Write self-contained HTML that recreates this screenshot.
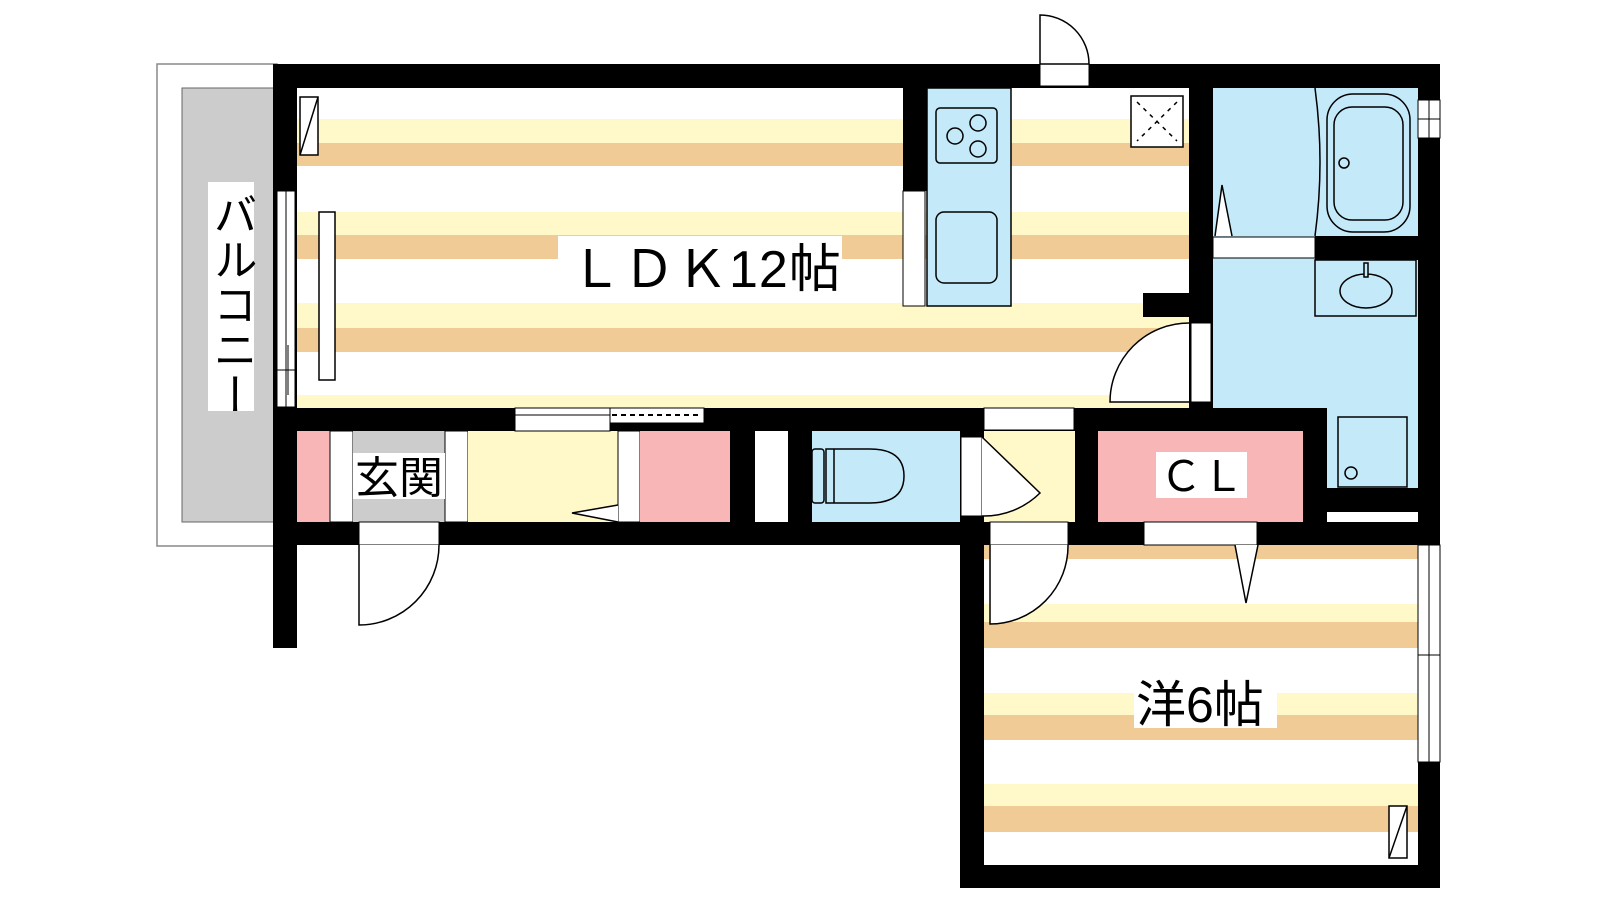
<!DOCTYPE html>
<html><head><meta charset="utf-8"><style>
html,body{margin:0;padding:0;background:#fff;width:1600px;height:900px;overflow:hidden}
svg{display:block}
text{font-family:"Liberation Sans","Noto Sans CJK JP",sans-serif;fill:#000}
</style></head><body>
<svg width="1600" height="900" viewBox="0 0 1600 900" xmlns="http://www.w3.org/2000/svg">
<!-- balcony -->
<rect x="157" y="64" width="120" height="482" fill="#fff" stroke="#888" stroke-width="1.5"/>
<rect x="182" y="88" width="95" height="434" fill="#ccc" stroke="#666" stroke-width="1"/>
<rect x="208" y="182" width="46" height="229" fill="#fff"/>
<text x="231" y="192" font-size="44" style="writing-mode:vertical-rl;glyph-orientation-vertical:0" letter-spacing="1">バルコニー</text>

<!-- LDK floor -->
<rect x="297" y="88" width="892" height="320" fill="#fff"/>
<g fill="#fff9c9">
<rect x="297" y="119" width="892" height="24"/><rect x="297" y="212" width="892" height="23"/>
<rect x="297" y="303" width="892" height="25"/><rect x="297" y="395" width="892" height="13"/>
</g>
<g fill="#f0cb96">
<rect x="297" y="143" width="892" height="23"/><rect x="297" y="235" width="892" height="24"/>
<rect x="297" y="328" width="892" height="24"/>
</g>
<!-- 6 room floor -->
<rect x="984" y="545" width="434" height="320" fill="#fff"/>
<g fill="#fff9c9"><rect x="984" y="604" width="434" height="18"/><rect x="984" y="693" width="434" height="22"/><rect x="984" y="784" width="434" height="22"/></g>
<g fill="#f0cb96"><rect x="984" y="545" width="434" height="14"/><rect x="984" y="622" width="434" height="26"/><rect x="984" y="715" width="434" height="25"/><rect x="984" y="806" width="434" height="26"/></g>

<!-- bath area -->
<rect x="1213" y="88" width="205" height="320" fill="#c4e9f9"/>
<rect x="1327" y="408" width="91" height="80" fill="#c4e9f9"/>
<!-- entry row -->
<rect x="297" y="431" width="33" height="91" fill="#f8b6b6"/>
<rect x="330" y="431" width="23" height="91" fill="#fff" stroke="#000" stroke-width="1"/>
<rect x="353" y="431" width="92" height="91" fill="#ccc"/>
<rect x="445" y="431" width="23" height="91" fill="#fff" stroke="#000" stroke-width="1"/>
<rect x="468" y="431" width="150" height="91" fill="#fff9c9"/>
<rect x="618" y="431" width="22" height="91" fill="#fff" stroke="#000" stroke-width="1"/>
<rect x="640" y="431" width="90" height="91" fill="#f8b6b6"/>
<rect x="755" y="431" width="33" height="91" fill="#fff"/>
<rect x="812" y="431" width="148" height="91" fill="#c4e9f9"/>
<rect x="984" y="431" width="91" height="91" fill="#fff9c9"/>
<rect x="1098" y="431" width="205" height="91" fill="#f8b6b6"/>

<!-- walls -->
<g fill="#000">
<rect x="273" y="64" width="1167" height="24"/>
<rect x="273" y="64" width="24" height="584"/>
<rect x="1418" y="64" width="22" height="824"/>
<rect x="960" y="865" width="480" height="23"/>
<rect x="960" y="522" width="24" height="366"/>
<rect x="273" y="408" width="1054" height="23"/>
<rect x="273" y="522" width="1167" height="23"/>
<rect x="1303" y="408" width="24" height="137"/>
<rect x="1303" y="488" width="115" height="57"/>
<rect x="1075" y="408" width="23" height="137"/>
<rect x="730" y="431" width="25" height="91"/>
<rect x="788" y="431" width="24" height="91"/>
<rect x="960" y="431" width="24" height="91"/>
<rect x="903" y="88" width="24" height="103"/>
<rect x="1189" y="88" width="24" height="320"/>
<rect x="1143" y="293" width="46" height="24"/>
<rect x="1315" y="236" width="103" height="24"/>
</g>
<!-- openings -->
<g fill="#fff" stroke="#000" stroke-width="1">
<rect x="1040" y="64" width="49" height="22"/>
<rect x="277" y="191" width="18" height="216"/>
<rect x="903" y="191" width="22" height="115"/>
<rect x="1191" y="323" width="20" height="79"/>
<rect x="1213" y="237" width="102" height="21"/>
<rect x="984" y="408" width="90" height="22"/>
<rect x="515" y="408" width="95" height="23"/>
<rect x="610" y="408" width="94" height="15"/>
<rect x="961" y="437" width="21" height="79"/>
<rect x="359" y="522" width="80" height="23"/>
<rect x="990" y="522" width="78" height="23"/>
<rect x="1144" y="522" width="113" height="23"/>
<rect x="1418" y="545" width="22" height="217"/>
<rect x="1418" y="100" width="22" height="38"/>
</g>
<rect x="1327" y="512" width="91" height="10" fill="#fff"/>
<g stroke="#000" stroke-width="1" fill="none">
<line x1="286" y1="191" x2="286" y2="407"/><line x1="277" y1="370" x2="295" y2="370"/><line x1="288" y1="345" x2="288" y2="395"/>
<line x1="515" y1="415" x2="610" y2="415"/>
<line x1="612" y1="415" x2="702" y2="415" stroke-dasharray="5,4" stroke-width="2"/>
<line x1="1429" y1="545" x2="1429" y2="762"/><line x1="1418" y1="655" x2="1440" y2="655"/>
<line x1="1429" y1="100" x2="1429" y2="138"/><line x1="1418" y1="119" x2="1440" y2="119"/>
</g>
<!-- doors -->
<g fill="#fff" stroke="#000" stroke-width="1.5">
<path d="M1040 64 L1040 15 A49 49 0 0 1 1089 64 Z"/>
<path d="M1189 402 L1110 402 A79 79 0 0 1 1189 323"/>
<path d="M359 545 L359 625 A80 80 0 0 0 439 545"/>
<path d="M990 545 L990 624 A78 78 0 0 0 1068 545"/>
<path d="M982 437 L1040 493 A80 80 0 0 1 982 516"/>
<path d="M618 505 L572 513 L618 522"/>
<path d="M1235 545 L1246 603 L1258 545"/>
<path d="M1215 236 L1222 185 L1232 236"/>
</g>
<!-- furniture -->
<g stroke="#000" stroke-width="1.5" fill="none">
<rect x="300" y="97" width="18" height="58" fill="#fff"/><line x1="300" y1="155" x2="318" y2="97"/>
<rect x="319" y="212" width="16" height="168" fill="#fff"/>
<rect x="1389" y="806" width="18" height="52" fill="#fff"/><line x1="1389" y1="858" x2="1407" y2="806"/>
<rect x="927" y="88" width="84" height="218" fill="#c4e9f9"/>
<rect x="936" y="108" width="61" height="55" rx="4"/>
<circle cx="955" cy="136" r="8"/><circle cx="978" cy="123" r="8"/><circle cx="978" cy="149" r="8"/>
<rect x="936" y="212" width="61" height="71" rx="8"/>
<rect x="1131" y="96" width="52" height="51" fill="#fff"/>
<path d="M1137 102 L1177 141 M1177 102 L1137 141" stroke-dasharray="4,5"/>
<path d="M1315 88 Q1325 162 1315 236"/>
<rect x="1327" y="94" width="83" height="138" rx="26"/>
<rect x="1334" y="107" width="69" height="113" rx="18"/>
<circle cx="1344" cy="163" r="5"/>
<rect x="1315" y="260" width="101" height="56"/>
<ellipse cx="1366" cy="291" rx="26" ry="17"/>
<rect x="1364" y="263" width="4" height="14" fill="#c4e9f9"/>
<rect x="1338" y="417" width="69" height="70"/>
<circle cx="1351" cy="473" r="6"/>
<rect x="812" y="449" width="12" height="54" rx="3"/>
<path d="M826 449 L870 449 Q904 449 904 476 Q904 503 870 503 L826 503 Z"/>
<line x1="834" y1="449" x2="834" y2="503"/>
</g>
<!-- labels -->
<rect x="558" y="236" width="284" height="58" fill="#fff"/>
<text x="570" y="287" font-size="52" letter-spacing="1">ＬＤＫ12帖</text>
<rect x="353" y="453" width="92" height="46" fill="#fff"/>
<text x="355" y="493" font-size="44">玄関</text>
<rect x="1156" y="452" width="91" height="46" fill="#fff"/>
<text x="1160" y="491" font-size="42">ＣＬ</text>
<rect x="1134" y="692" width="143" height="36" fill="#fff"/>
<text x="1136" y="722" font-size="50">洋6帖</text>
</svg>
</body></html>
